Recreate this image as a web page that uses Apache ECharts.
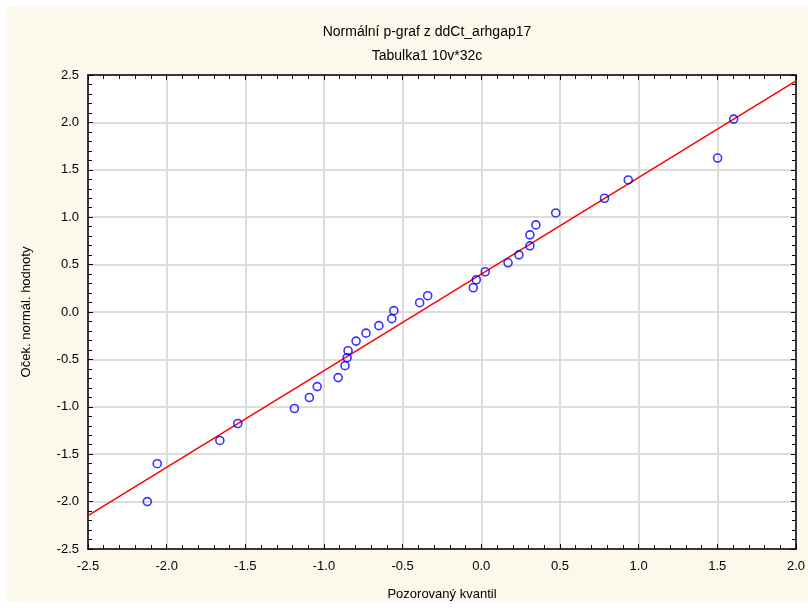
<!DOCTYPE html>
<html>
<head>
<meta charset="utf-8">
<script src="https://cdn.jsdelivr.net/npm/echarts@6/dist/echarts.min.js"></script>
<style>
html,body{margin:0;padding:0;background:#ffffff;}
#bg{position:absolute;left:7px;top:7px;width:801px;height:595px;background:#fdf8ec;}
#chart{position:absolute;left:0;top:0;width:808px;height:608px;}
</style>
</head>
<body>
<div id="bg"></div>
<div id="chart"></div>
<script>
// Observed quantiles (x) and expected normal values (y)
const observed = [-2.123, -2.060, -1.662, -1.548, -1.188, -1.093, -1.043, -0.910, -0.866, -0.853, -0.847,
  -0.796, -0.733, -0.651, -0.569, -0.556, -0.392, -0.341, -0.051, -0.032, 0.025, 0.170, 0.239,
  0.309, 0.309, 0.347, 0.473, 0.783, 0.934, 1.502, 1.604];
const expected = [-2.00, -1.60, -1.355, -1.176, -1.018, -0.902, -0.787, -0.692, -0.566, -0.482, -0.408,
  -0.307, -0.223, -0.144, -0.070, 0.014, 0.098, 0.172, 0.256, 0.340, 0.424, 0.519, 0.603,
  0.698, 0.814, 0.919, 1.045, 1.200, 1.393, 1.624, 2.035];
// Reference line end points
const lineX = [-2.5, 2.0];
const lineY = [-2.147, 2.439];
const xTicks = [-2.5, -2.0, -1.5, -1.0, -0.5, 0.0, 0.5, 1.0, 1.5, 2.0];
const yTicks = [-2.5, -2.0, -1.5, -1.0, -0.5, 0.0, 0.5, 1.0, 1.5, 2.0, 2.5];
const titleText = 'Normální p-graf z ddCt_arhgap17';
const subtitleText = 'Tabulka1 10v*32c';
const xName = 'Pozorovaný kvantil';
const yName = 'Oček. normál. hodnoty';

const font = '"Liberation Sans", Arial, sans-serif';
const chart = echarts.init(document.getElementById('chart'), null, {renderer: 'canvas'});

const baseAxis = (min, max, interval) => ({
  type: 'value', min: min, max: max, interval: interval,
  axisLine: {show: true, onZero: false, lineStyle: {color: '#000', width: 1.5}},
  axisTick: {show: true, inside: true, length: 5, lineStyle: {color: '#000', width: 1}},
  minorTick: {show: true, splitNumber: 5, length: 4, lineStyle: {color: '#000', width: 1}},
  splitLine: {show: false},
  axisLabel: {show: false}
});

const xMain = Object.assign(baseAxis(xTicks[0], xTicks[xTicks.length - 1], 0.5), {
  position: 'bottom',
  splitLine: {show: true, lineStyle: {color: '#dcdcdc', width: 2}},
  axisLabel: {show: true, color: '#000', fontFamily: font, fontSize: 13, margin: 11,
    formatter: v => v.toFixed(1)},
  name: xName, nameLocation: 'middle', nameGap: 39,
  nameTextStyle: {color: '#000', fontFamily: font, fontSize: 13}
});
const xTop = Object.assign(baseAxis(xTicks[0], xTicks[xTicks.length - 1], 0.5), {position: 'top'});
const yMain = Object.assign(baseAxis(yTicks[0], yTicks[yTicks.length - 1], 0.5), {
  position: 'left',
  splitLine: {show: true, lineStyle: {color: '#dcdcdc', width: 2}},
  axisLabel: {show: true, color: '#000', fontFamily: font, fontSize: 13, margin: 9,
    formatter: v => v.toFixed(1)},
  name: yName, nameLocation: 'middle', nameGap: 55,
  nameTextStyle: {color: '#000', fontFamily: font, fontSize: 13}
});
const yRight = Object.assign(baseAxis(yTicks[0], yTicks[yTicks.length - 1], 0.5), {position: 'right'});

chart.setOption({
  backgroundColor: 'transparent',
  animation: false,
  title: [
    {text: titleText, left: 422, top: 20, textAlign: 'center',
      textStyle: {fontFamily: font, fontSize: 14, fontWeight: 'normal', color: '#000'}},
    {text: subtitleText, left: 422, top: 44, textAlign: 'center',
      textStyle: {fontFamily: font, fontSize: 14, fontWeight: 'normal', color: '#000'}}
  ],
  grid: {left: 88, right: 12, top: 75, bottom: 59, containLabel: false,
    show: true, backgroundColor: '#ffffff', borderWidth: 0},
  xAxis: [xMain, xTop],
  yAxis: [yMain, yRight],
  series: [
    {type: 'line', xAxisIndex: 0, yAxisIndex: 0,
      data: lineX.map((x, i) => [x, lineY[i]]),
      showSymbol: false, symbol: 'none',
      lineStyle: {color: '#ff0000', width: 1.5}, z: 2},
    {type: 'scatter', xAxisIndex: 0, yAxisIndex: 0,
      data: observed.map((x, i) => [x, expected[i]]),
      symbol: 'circle', symbolSize: 8,
      itemStyle: {color: 'rgba(0,0,0,0)', borderColor: '#0000ff', borderWidth: 1.6}, z: 3}
  ]
});
</script>
</body>
</html>
